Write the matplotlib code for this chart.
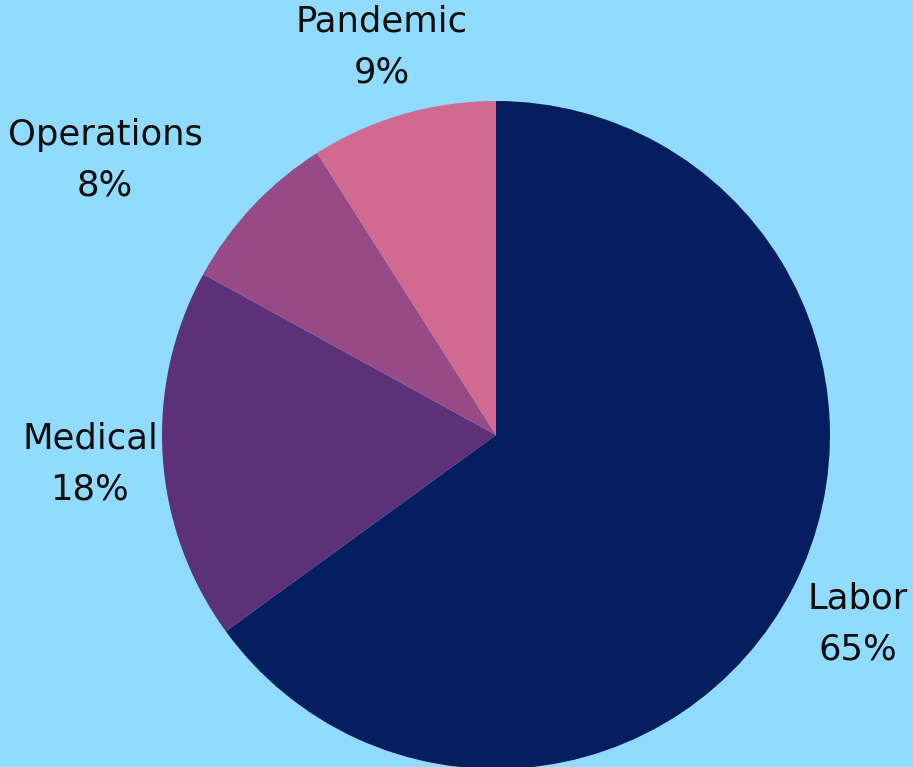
import matplotlib
matplotlib.use("Agg")
import matplotlib.pyplot as plt

# Cost breakdown
categories = ["Labor", "Medical", "Operations", "Pandemic"]
shares = [65, 18, 8, 9]
colors = ["#041E5F", "#5C3178", "#984A86", "#D06A90"]

# label anchor points (pixels from top-left)
label_pos = [(858, 624), (90, 464), (105, 160), (382, 47)]

W, H = 913, 767
fig = plt.figure(figsize=(W / 100, H / 100), dpi=100)
fig.patch.set_facecolor("#90DBFE")
ax = fig.add_axes([0, 0, 1, 1])
ax.set_facecolor("#90DBFE")

ax.pie(shares, colors=colors, startangle=90, counterclock=False,
       center=(496, H - 435), radius=334, frame=True)
ax.set_xlim(0, W)
ax.set_ylim(0, H)
ax.set_aspect("equal")
ax.axis("off")

for name, val, (x, y) in zip(categories, shares, label_pos):
    ax.text(x, H - y, f"{name}\n{val}%", ha="center", va="center",
            fontsize=25.5, color="#0d0d0d", family="DejaVu Sans",
            linespacing=1.6)

fig.savefig("out.png", dpi=100, facecolor=fig.get_facecolor())
